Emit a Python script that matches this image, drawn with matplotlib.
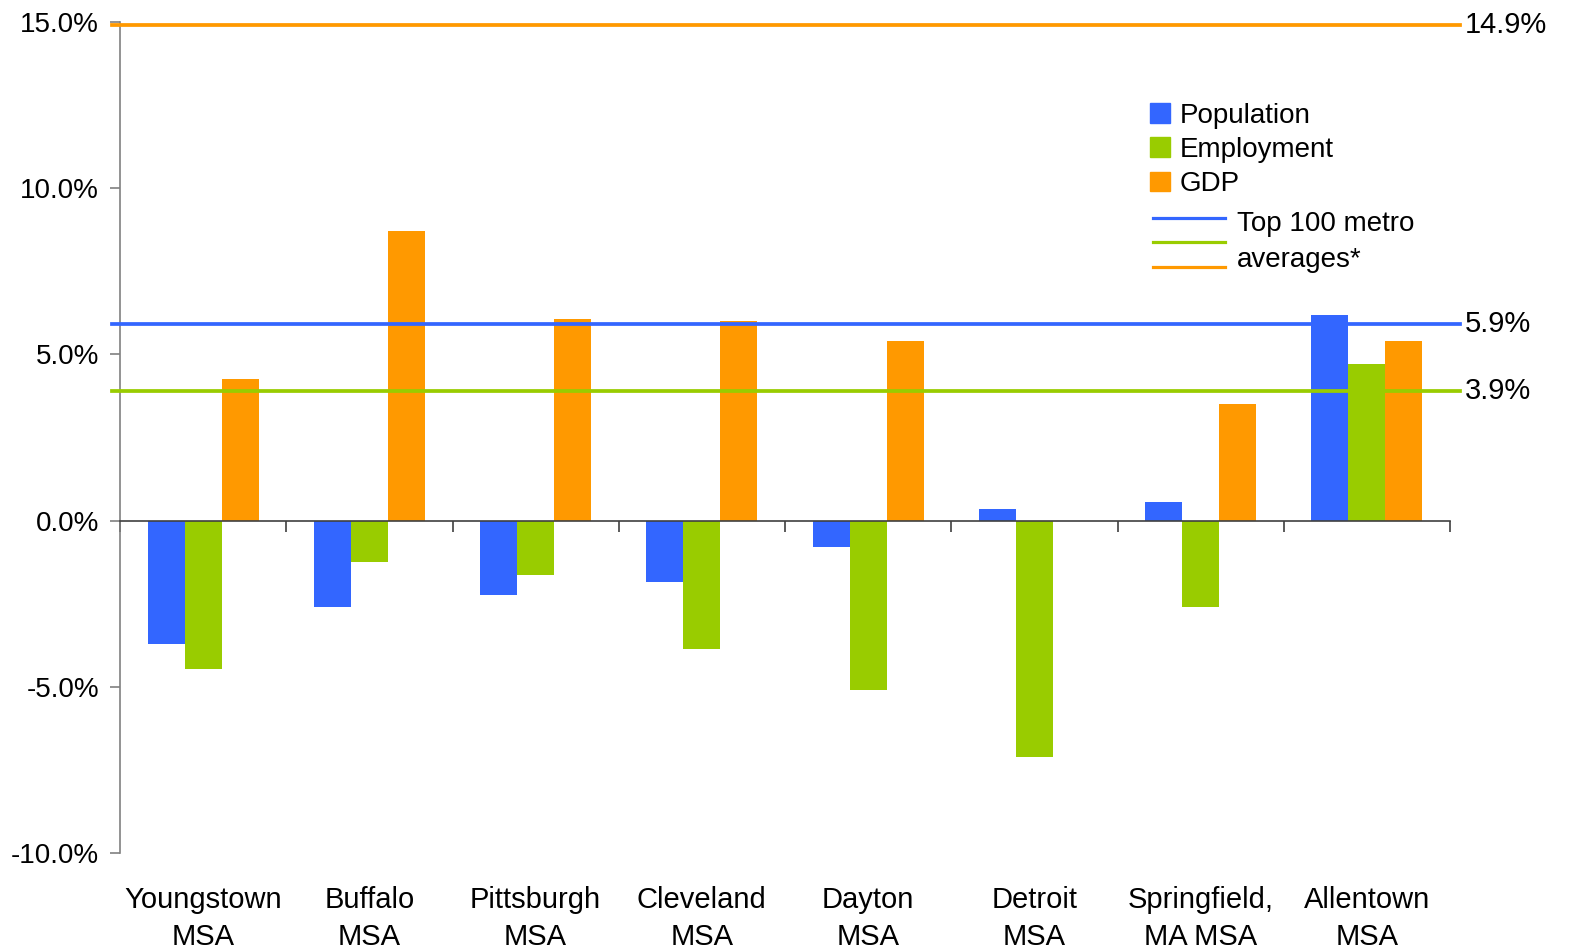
import numpy as np
import matplotlib
matplotlib.use("Agg")
import matplotlib.pyplot as plt
from matplotlib.patches import Patch
from matplotlib.ticker import FuncFormatter, FixedLocator

plt.rcParams["font.family"] = ["Liberation Sans", "DejaVu Sans"]

metros = ["Youngstown\nMSA", "Buffalo\nMSA", "Pittsburgh\nMSA", "Cleveland\nMSA",
          "Dayton\nMSA", "Detroit\nMSA", "Springfield,\nMA MSA", "Allentown\nMSA"]
population = [-3.7, -2.6, -2.25, -1.85, -0.8, 0.35, 0.55, 6.2]
employment = [-4.45, -1.25, -1.65, -3.85, -5.1, -7.1, -2.6, 4.7]
gdp = [4.25, 8.7, 6.05, 6.0, 5.4, 0.0, 3.5, 5.4]

# top 100 metro averages
avg_population = 5.9
avg_employment = 3.9
avg_gdp = 14.9

c_pop = "#3366FF"
c_emp = "#99CC00"
c_gdp = "#FF9900"

fig = plt.figure(figsize=(15.75, 9.5), dpi=100)
ax = fig.add_axes([120 / 1575, 1 - 853 / 950, 1330 / 1575, 831 / 950])

x = np.arange(len(metros))
w = 37 / 166.25
ax.bar(x - w, population, w, color=c_pop, zorder=2)
ax.bar(x, employment, w, color=c_emp, zorder=2)
ax.bar(x + w, gdp, w, color=c_gdp, zorder=2)

ax.set_xlim(-0.5, len(metros) - 0.5)
ax.set_ylim(-10, 15)

# average lines run a little past both ends of the plot
x0, x1 = -0.55, len(metros) - 0.44
for val, col in [(avg_gdp, c_gdp), (avg_population, c_pop), (avg_employment, c_emp)]:
    ax.plot([x0, x1], [val, val], color=col, lw=2.7, clip_on=False, zorder=3)
    ax.text(x1 + 0.03, val, f"{val:.1f}%", fontsize=21, va="center", ha="left")

# axes styling
for s in ["top", "right"]:
    ax.spines[s].set_visible(False)
ax.spines["left"].set_color("#808080")
ax.spines["left"].set_linewidth(1.2)
ax.spines["bottom"].set_position(("data", 0))
ax.spines["bottom"].set_color("#404040")
ax.spines["bottom"].set_linewidth(1.2)
ax.spines["bottom"].set_zorder(4)

ax.set_yticks(np.arange(-10, 16, 5))
ax.yaxis.set_major_formatter(FuncFormatter(lambda v, p: f"{v:.1f}%"))
ax.tick_params(axis="y", direction="out", length=7, width=1.2, color="#808080",
               labelsize=20, pad=8)

ax.xaxis.set_major_locator(FixedLocator(np.arange(len(metros) + 1) - 0.5))
ax.tick_params(axis="x", direction="out", length=8, width=1.2, color="#404040",
               labelbottom=False)

for xi, name in zip(x, metros):
    ax.text(xi, -0.04, name, transform=ax.get_xaxis_transform(), ha="center",
            va="top", fontsize=21, linespacing=1.38)

# legend: bar series
handles = [Patch(color=c_pop, label="Population"),
           Patch(color=c_emp, label="Employment"),
           Patch(color=c_gdp, label="GDP")]
ax.legend(handles=handles, loc="upper left", bbox_to_anchor=(0.7745, 0.903),
          frameon=False, fontsize=20, handlelength=0.7, handleheight=0.7,
          handletextpad=0.35, labelspacing=0.3, borderpad=0, borderaxespad=0)

# legend: average lines
for yy, col in [(0.764, c_pop), (0.735, c_emp), (0.705, c_gdp)]:
    ax.plot([0.777, 0.831], [yy, yy], color=col, lw=2.3, transform=ax.transAxes,
            clip_on=False)
ax.text(0.840, 0.757, "Top 100 metro", transform=ax.transAxes, fontsize=20,
        va="center", ha="left")
ax.text(0.840, 0.713, "averages*", transform=ax.transAxes, fontsize=20,
        va="center", ha="left")

fig.savefig("out.png", dpi=100)
